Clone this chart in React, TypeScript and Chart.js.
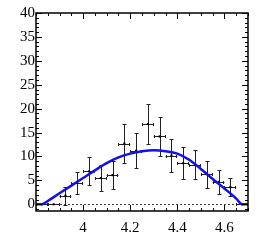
import { useEffect, useRef } from 'react';
import { Chart, registerables } from 'chart.js';

Chart.register(...registerables);

// ---- data ----
const BIN_CENTERS = [3.825, 3.875, 3.925, 3.975, 4.025, 4.075, 4.125, 4.175, 4.225, 4.275, 4.325, 4.375, 4.425, 4.475, 4.525, 4.575, 4.625, 4.675];
const COUNTS = [0, 0, 1.8, 4.5, 6.9, 5.5, 6.1, 12.7, 11.2, 16.8, 14.2, 10.2, 8.6, 8.3, 6.3, 4.7, 3.6, 0];
const ERRORS = [0, 0, 1.9, 2.3, 2.9, 2.7, 3.0, 4.0, 3.7, 4.2, 4.1, 3.5, 3.4, 3.1, 2.8, 2.5, 1.9, 0];
const BIN_WIDTH = 0.05;

const CURVE_X = [3.8, 3.825, 3.85, 3.9, 3.95, 4.0, 4.05, 4.1, 4.15, 4.2, 4.25, 4.3, 4.35, 4.4, 4.45, 4.5, 4.55, 4.6, 4.65, 4.675, 4.7];
const CURVE_Y = [0, 0, 0.7, 2.3, 3.9, 5.5, 7.1, 8.6, 9.8, 10.6, 11.1, 11.3, 11.1, 10.6, 9.3, 7.4, 5.3, 3.3, 1.2, 0, 0];

const X_TICKS = [4, 4.2, 4.4, 4.6];
const Y_TICKS = [0, 5, 10, 15, 20, 25, 30, 35, 40];
const X_MIN = 3.8;
const X_MAX = 4.7;
const Y_MIN = -1.4;
const Y_MAX = 40;
const X_MINOR = 0.05;
const Y_MINOR = 1;

const FONT = '"Liberation Serif", "Times New Roman", Times, serif';

const minorValues = (min: number, max: number, step: number) => {
  const out: number[] = [];
  const a = Math.ceil(min / step - 1e-6);
  const b = Math.floor(max / step + 1e-6);
  for (let k = a; k <= b; k++) out.push(+(k * step).toFixed(6));
  return out;
};

const rootPlugin = {
  id: 'rootStyle',
  beforeDatasetsDraw(chart: any) {
    const { ctx, chartArea, scales } = chart;
    const { left, right } = chartArea;
    const x = scales.x;
    const y = scales.y;
    ctx.save();
    // dotted zero line
    const y0 = Math.round(y.getPixelForValue(0)) + 0.5;
    ctx.setLineDash([2, 2]);
    ctx.strokeStyle = '#444';
    ctx.lineWidth = 1;
    ctx.beginPath();
    ctx.moveTo(left, y0);
    ctx.lineTo(right, y0);
    ctx.stroke();
    ctx.setLineDash([]);
    // error bars
    ctx.strokeStyle = '#222';
    ctx.lineWidth = 1;
    BIN_CENTERS.forEach((c, i) => {
      const px = Math.round(x.getPixelForValue(c)) + 0.5;
      const py = Math.round(y.getPixelForValue(COUNTS[i])) + 0.5;
      const xl = x.getPixelForValue(c - BIN_WIDTH / 2);
      const xr = x.getPixelForValue(c + BIN_WIDTH / 2);
      ctx.beginPath();
      ctx.moveTo(xl, py);
      ctx.lineTo(xr, py);
      ctx.moveTo(Math.round(xl) + 0.5, py - 1.5);
      ctx.lineTo(Math.round(xl) + 0.5, py + 1.5);
      ctx.moveTo(Math.round(xr) - 0.5, py - 1.5);
      ctx.lineTo(Math.round(xr) - 0.5, py + 1.5);
      if (ERRORS[i] > 0) {
        const yt = Math.round(y.getPixelForValue(COUNTS[i] + ERRORS[i])) + 0.5;
        const yb = Math.round(y.getPixelForValue(COUNTS[i] - ERRORS[i])) + 0.5;
        ctx.moveTo(px, yt);
        ctx.lineTo(px, yb);
        ctx.moveTo(px - 2, yt);
        ctx.lineTo(px + 2, yt);
        ctx.moveTo(px - 2, yb);
        ctx.lineTo(px + 2, yb);
      }
      ctx.stroke();
    });
    ctx.restore();
  },
  afterDraw(chart: any) {
    const { ctx, chartArea, scales } = chart;
    const { left, right, top, bottom } = chartArea;
    const x = scales.x;
    const y = scales.y;
    ctx.save();
    ctx.strokeStyle = '#000';
    ctx.lineWidth = 1;
    ctx.beginPath();
    // x ticks top and bottom
    minorValues(X_MIN, X_MAX, X_MINOR).forEach((v) => {
      const major = X_TICKS.some((t) => Math.abs(t - v) < 1e-6);
      const len = major ? 6 : 3;
      const px = Math.round(x.getPixelForValue(v)) + 0.5;
      ctx.moveTo(px, bottom);
      ctx.lineTo(px, bottom - len);
      ctx.moveTo(px, top);
      ctx.lineTo(px, top + len);
    });
    // y ticks left and right
    minorValues(Y_MIN, Y_MAX, Y_MINOR).forEach((v) => {
      const major = Y_TICKS.some((t) => Math.abs(t - v) < 1e-6);
      const len = major ? 6 : 3;
      const py = Math.round(y.getPixelForValue(v)) + 0.5;
      ctx.moveTo(left, py);
      ctx.lineTo(left + len, py);
      ctx.moveTo(right, py);
      ctx.lineTo(right - len, py);
    });
    ctx.stroke();
    // frame
    ctx.lineWidth = 1.5;
    ctx.strokeRect(left, top, right - left, bottom - top);
    ctx.restore();
  },
};

export default function App() {
  const ref = useRef<HTMLCanvasElement | null>(null);

  useEffect(() => {
    document.body.style.margin = '0';
    const canvas = ref.current;
    if (!canvas) return;
    const chart = new Chart(canvas, {
      type: 'scatter',
      data: {
        datasets: [
          {
            type: 'line',
            label: 'fit',
            data: CURVE_X.map((v, i) => ({ x: v, y: CURVE_Y[i] })),
            borderColor: '#1010f0',
            borderWidth: 2.5,
            pointRadius: 0,
            cubicInterpolationMode: 'monotone',
            fill: false,
            order: 0,
          } as any,
          {
            type: 'scatter',
            label: 'data',
            data: BIN_CENTERS.map((v, i) => ({ x: v, y: COUNTS[i] })),
            backgroundColor: '#000',
            borderColor: '#000',
            pointStyle: 'rect',
            pointRadius: 1.5,
            borderWidth: 0,
            order: 1,
          },
        ],
      },
      options: {
        animation: false,
        responsive: false,
        events: [],
        layout: { padding: { top: 13, right: 14, left: 0, bottom: 0 }, autoPadding: false } as any,
        plugins: { legend: { display: false }, tooltip: { enabled: false } },
        scales: {
          x: {
            type: 'linear',
            min: X_MIN,
            max: X_MAX,
            afterBuildTicks: (s: any) => {
              s.ticks = X_TICKS.map((v) => ({ value: v }));
            },
            afterFit: (s: any) => {
              s.height = 40;
            },
            grid: { display: false, drawTicks: false },
            border: { display: false },
            ticks: {
              color: '#000',
              font: { family: FONT, size: 15 },
              padding: 8,
              maxRotation: 0,
              callback: (v: any) => String(v),
            },
          },
          y: {
            type: 'linear',
            min: Y_MIN,
            max: Y_MAX,
            afterBuildTicks: (s: any) => {
              s.ticks = Y_TICKS.map((v) => ({ value: v }));
            },
            afterFit: (s: any) => {
              s.width = 36;
            },
            grid: { display: false, drawTicks: false },
            border: { display: false },
            ticks: {
              color: '#000',
              font: { family: FONT, size: 15 },
              padding: 1,
              callback: (v: any) => String(v),
            },
          },
        },
      },
      plugins: [rootPlugin],
    });
    return () => chart.destroy();
  }, []);

  return (
    <div style={{ position: 'absolute', left: 0, top: 0, width: 262, height: 251, background: '#fff' }}>
      <canvas ref={ref} width={262} height={251} style={{ display: 'block' }} />
    </div>
  );
}
